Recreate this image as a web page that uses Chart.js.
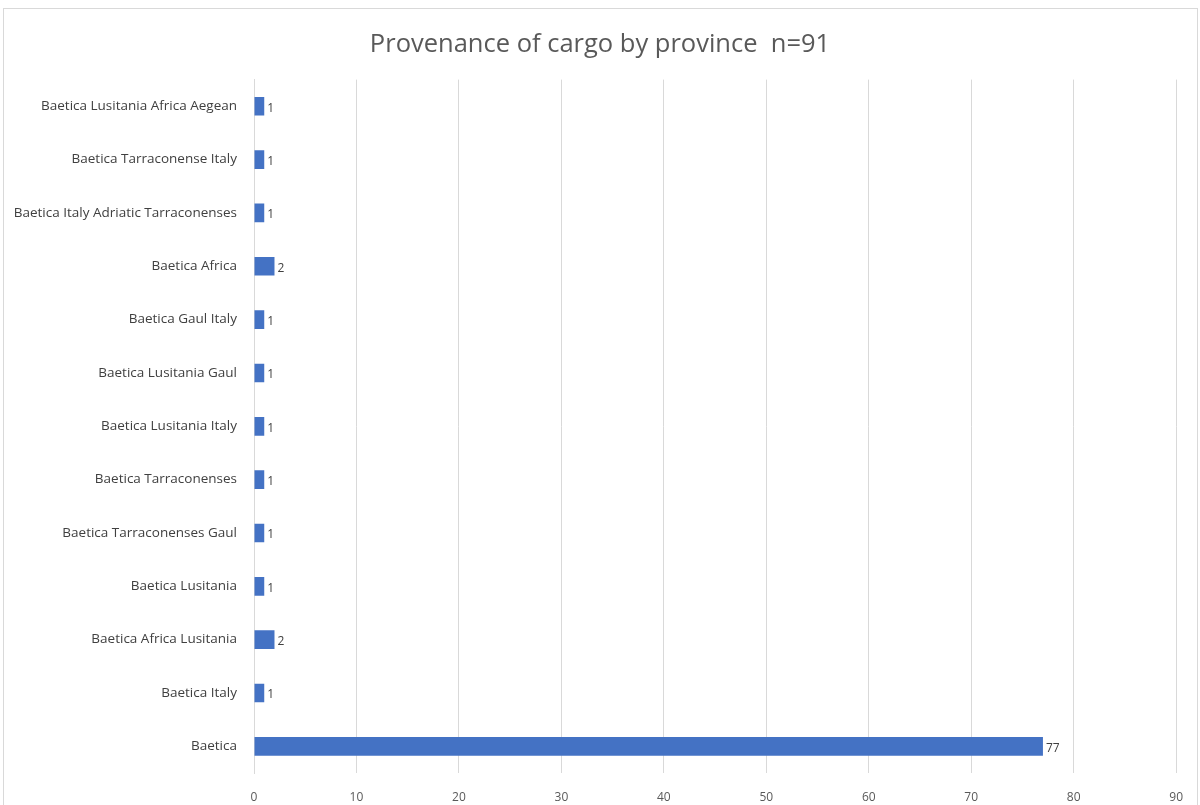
<!DOCTYPE html>
<html>
<head>
<meta charset="utf-8">
<script src="https://cdn.jsdelivr.net/npm/chart.js@4/dist/chart.umd.min.js"></script>
<style>
  html, body { margin: 0; padding: 0; background: #ffffff; }
  #wrap { width: 1200px; height: 805px; position: relative; }
</style>
</head>
<body>
<div id="wrap"><canvas id="chart" width="1200" height="805"></canvas></div>
<script>
// Cargo provenance groups, listed top to bottom
const provinces = [
  'Baetica Lusitania Africa Aegean',
  'Baetica Tarraconense Italy',
  'Baetica Italy Adriatic Tarraconenses',
  'Baetica Africa',
  'Baetica Gaul Italy',
  'Baetica Lusitania Gaul',
  'Baetica Lusitania Italy',
  'Baetica Tarraconenses',
  'Baetica Tarraconenses Gaul',
  'Baetica Lusitania',
  'Baetica Africa Lusitania',
  'Baetica Italy',
  'Baetica'
];
const cargoCounts = [1, 1, 1, 2, 1, 1, 1, 1, 1, 1, 2, 1, 77];
const axisMax = 90;
const axisStep = 10;

const FONT = "'Open Sans', sans-serif";

// Outer frame around the chart
const framePlugin = {
  id: 'frame',
  beforeDraw(chart) {
    const ctx = chart.ctx;
    ctx.save();
    ctx.fillStyle = '#ffffff';
    ctx.fillRect(0, 0, chart.width, chart.height);
    ctx.strokeStyle = '#d9d9d9';
    ctx.lineWidth = 1;
    ctx.strokeRect(3.5, 8.5, 1194, 820);
    ctx.restore();
  }
};

// Centre the title across the full canvas width
const titleSpan = {
  id: 'titleSpan',
  afterLayout(chart) {
    const t = chart.titleBlock;
    if (t) { t.left = 0; t.right = chart.width; t.width = chart.width; }
  }
};

// Value labels at the end of each bar
const valueLabels = {
  id: 'valueLabels',
  afterDatasetsDraw(chart) {
    const ctx = chart.ctx;
    const meta = chart.getDatasetMeta(0);
    ctx.save();
    ctx.font = "12px " + FONT;
    ctx.fillStyle = '#404040';
    ctx.textAlign = 'left';
    ctx.textBaseline = 'middle';
    meta.data.forEach((bar, i) => {
      ctx.fillText(String(cargoCounts[i]), bar.x + 3, bar.y + 2);
    });
    ctx.restore();
  }
};

new Chart(document.getElementById('chart'), {
  type: 'bar',
  data: {
    labels: provinces,
    datasets: [{
      data: cargoCounts,
      backgroundColor: '#4472C4',
      borderWidth: 0,
      categoryPercentage: 1,
      barPercentage: 0.35
    }]
  },
  options: {
    indexAxis: 'y',
    responsive: false,
    animation: false,
    devicePixelRatio: 1,
    layout: { padding: { left: 0, right: 19, top: 0, bottom: 0 } },
    plugins: {
      legend: { display: false },
      tooltip: { enabled: false },
      title: {
        display: true,
        text: 'Provenance of cargo by province  n=91',
        color: '#595959',
        font: { family: FONT, size: 25.5, weight: 'normal' },
        padding: { top: 29, bottom: 20 }
      }
    },
    scales: {
      x: {
        min: 0,
        max: axisMax,
        ticks: {
          stepSize: axisStep,
          color: '#595959',
          font: { family: FONT, size: 12 },
          padding: 17
        },
        grid: { color: '#d9d9d9', drawTicks: false },
        border: { display: false },
        afterFit(scale) { scale.height = 32; }
      },
      y: {
        ticks: {
          color: '#404040',
          font: { family: FONT, size: 13.5 },
          padding: 17,
          autoSkip: false
        },
        grid: { display: false, drawTicks: false },
        border: { display: true, color: '#d9d9d9' },
        afterFit(scale) { scale.width = 254; }
      }
    }
  },
  plugins: [framePlugin, titleSpan, valueLabels]
});
</script>
</body>
</html>
